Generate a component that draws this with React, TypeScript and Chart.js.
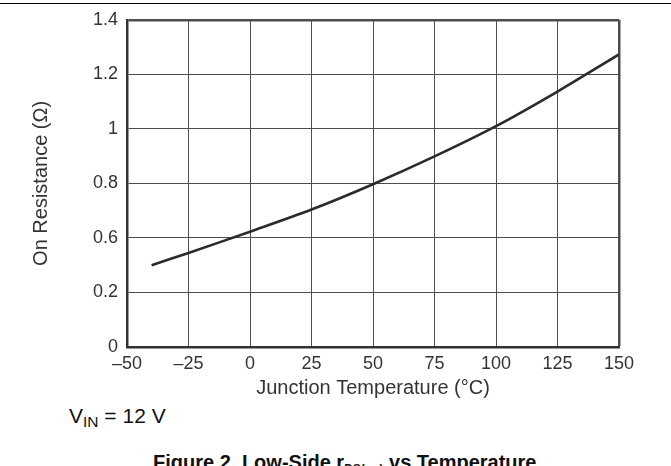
import React, { useEffect, useRef } from "react";
import { Chart, registerables } from "chart.js";

Chart.register(...registerables);

// Junction temperature (°C) and on-resistance (Ω)
const TEMPS = [-40, -25, 0, 25, 50, 75, 100, 125, 150];
const R_ON = [0.5, 0.545, 0.623, 0.704, 0.797, 0.899, 1.01, 1.137, 1.273];

// Tick labels as printed on the reference
const Y_TICK_LABELS = ["0", "0.2", "0.6", "0.8", "1", "1.2", "1.4"];
const X_TICK_LABELS = ["\u201350", "\u201325", "0", "25", "50", "75", "100", "125", "150"];

const X_TITLE = "Junction Temperature (\u00B0C)";
const Y_TITLE = "On Resistance (\u03A9)";

const FONT = "'Liberation Sans', Arial, Helvetica, sans-serif";

export default function App() {
  const canvasRef = useRef<HTMLCanvasElement | null>(null);

  useEffect(() => {
    const canvas = canvasRef.current;
    if (!canvas) return;
    const chart = new Chart(canvas, {
      type: "line",
      data: {
        datasets: [
          {
            data: TEMPS.map((t, i) => ({ x: t, y: R_ON[i] })),
            borderColor: "#2b2b2b",
            borderWidth: 2.6,
            pointRadius: 0,
            tension: 0.35,
            fill: false,
          },
        ],
      },
      options: {
        animation: false,
        responsive: false,
        devicePixelRatio: 1,
        layout: { padding: { left: 0, top: 15, right: 52, bottom: 0 } },
        plugins: { legend: { display: false }, tooltip: { enabled: false } },
        scales: {
          x: {
            type: "linear",
            min: -50,
            max: 150,
            afterFit: (scale: any) => {
              scale.height = 53;
            },
            ticks: {
              stepSize: 25,
              padding: 6,
              color: "#333",
              font: { family: FONT, size: 18 },
              maxRotation: 0,
              callback: (_v: any, i: number) => X_TICK_LABELS[i],
            },
            grid: {
              color: "#4d4d4d",
              lineWidth: (ctx: any) => (ctx.index === X_TICK_LABELS.length - 1 ? 2.5 : 1),
              drawTicks: false,
            },
            border: { color: "#333", width: 2.5 },
            title: {
              display: true,
              text: X_TITLE,
              color: "#333",
              font: { family: FONT, size: 20 },
              padding: { top: 0, bottom: 0 },
            },
          },
          y: {
            type: "linear",
            min: 0.2,
            max: 1.4,
            afterFit: (scale: any) => {
              scale.width = 127;
            },
            ticks: {
              stepSize: 0.2,
              padding: 9,
              color: "#333",
              font: { family: FONT, size: 18 },
              callback: (_v: any, i: number) => Y_TICK_LABELS[i],
            },
            grid: {
              color: "#4d4d4d",
              lineWidth: (ctx: any) => (ctx.index === Y_TICK_LABELS.length - 1 ? 2.5 : 1),
              drawTicks: false,
            },
            border: { color: "#333", width: 2.5 },
            title: {
              display: true,
              text: Y_TITLE,
              color: "#333",
              font: { family: FONT, size: 20 },
              padding: { top: 29, bottom: 0 },
            },
          },
        },
      },
    });
    return () => chart.destroy();
  }, []);

  return (
    <div
      style={{
        position: "fixed",
        left: 0,
        top: 0,
        width: 671,
        height: 466,
        overflow: "hidden",
        background: "#fff",
        fontFamily: FONT,
      }}
    >
      <div style={{ position: "absolute", left: 0, top: 3, width: 671, height: 1, background: "#000" }} />
      <canvas
        ref={canvasRef}
        width={671}
        height={400}
        style={{ position: "absolute", left: 0, top: 0, width: 671, height: 400 }}
      />
      <div
        style={{
          position: "absolute",
          left: 69,
          top: 405,
          fontSize: 21,
          lineHeight: "21px",
          color: "#111",
          whiteSpace: "nowrap",
        }}
      >
        V<span style={{ fontSize: 15.5, position: "relative", top: 4 }}>IN</span> = 12 V
      </div>
      <div
        style={{
          position: "absolute",
          left: 153,
          top: 452,
          fontSize: 20,
          lineHeight: "20px",
          fontWeight: "bold",
          color: "#111",
          whiteSpace: "nowrap",
        }}
      >
        Figure 2. Low-Side r
        <span style={{ fontSize: 12, position: "relative", top: 4 }}>DS(on)</span> vs Temperature
      </div>
    </div>
  );
}
